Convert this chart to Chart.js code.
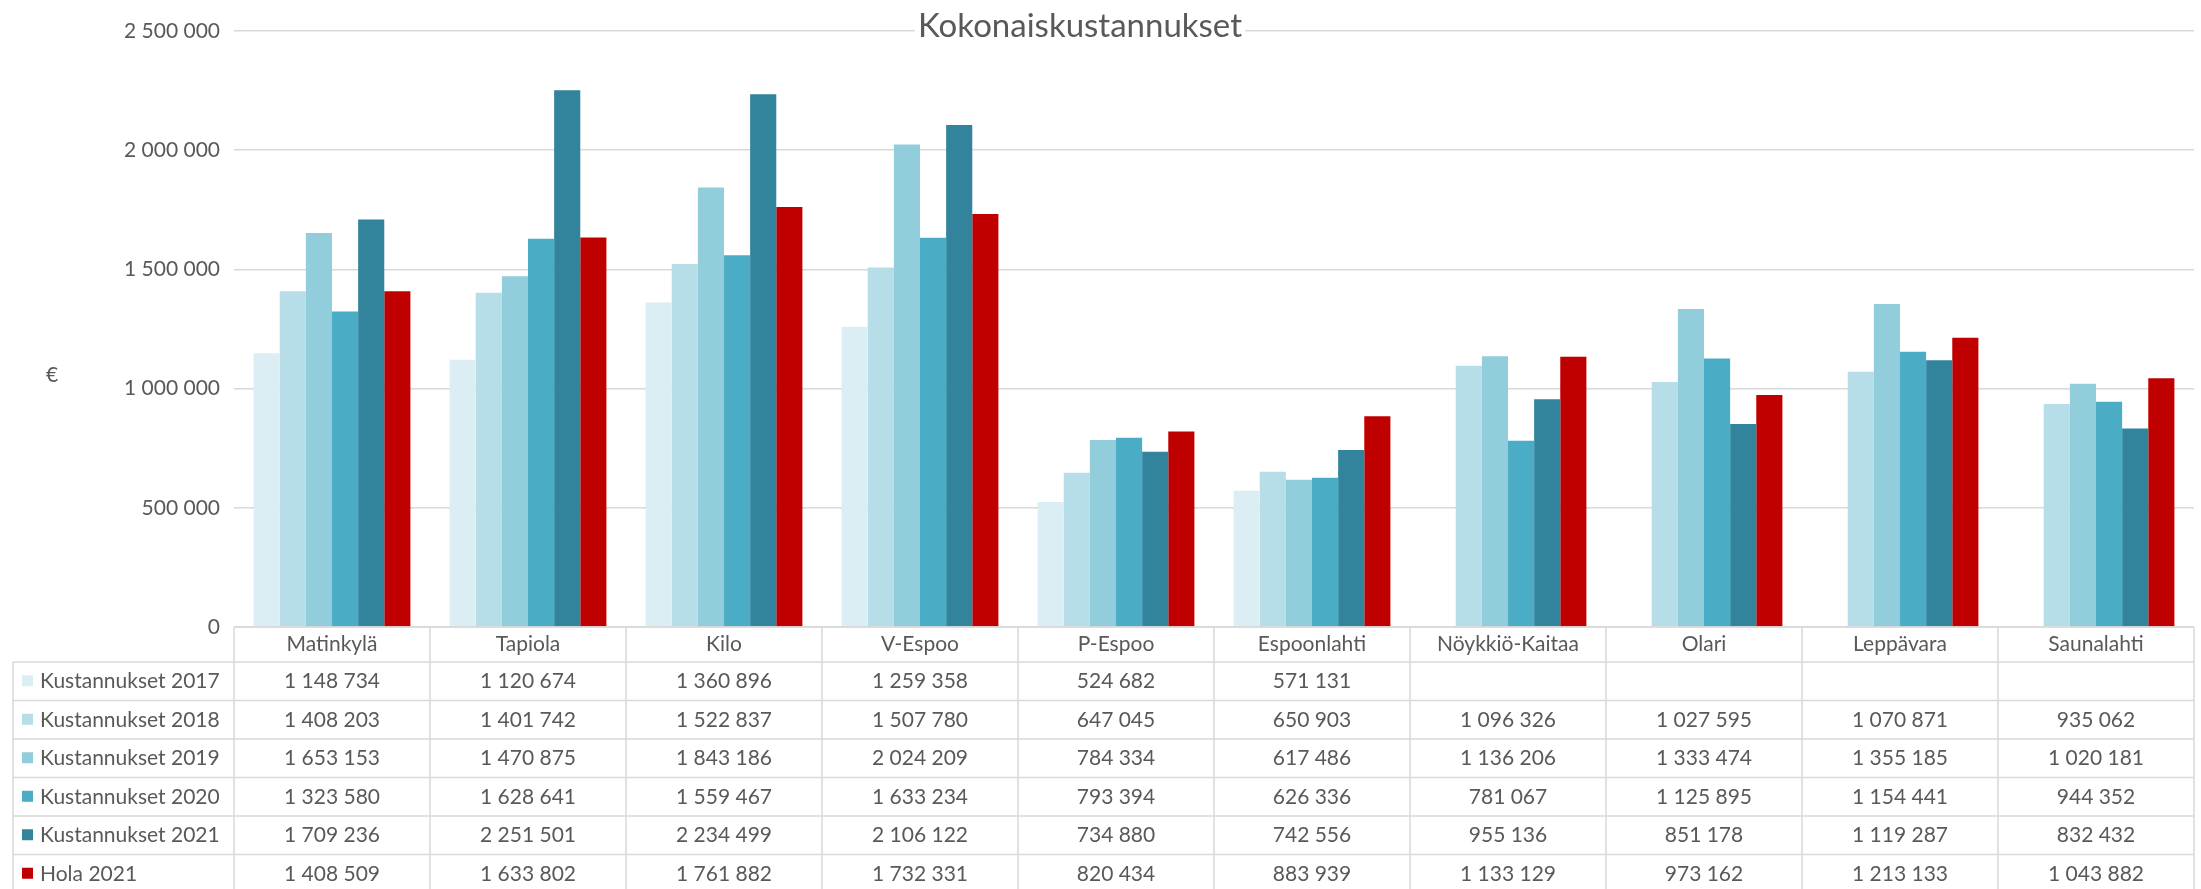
<!DOCTYPE html>
<html>
<head>
<meta charset="utf-8">
<script src="https://cdn.jsdelivr.net/npm/chart.js@4/dist/chart.umd.min.js"></script>
<style>
  body { margin: 0; background: #fff; }
  #wrap { width: 2201px; height: 889px; }
</style>
</head>
<body>
<div id="wrap"><canvas id="costChart" width="2201" height="889"></canvas></div>
<script>
const areas = ['Matinkylä', 'Tapiola', 'Kilo', 'V-Espoo', 'P-Espoo', 'Espoonlahti', 'Nöykkiö-Kaitaa', 'Olari', 'Leppävara', 'Saunalahti'];
const seriesNames = ['Kustannukset 2017', 'Kustannukset 2018', 'Kustannukset 2019', 'Kustannukset 2020', 'Kustannukset 2021', 'Hola 2021'];
const kust2017 = [1148734, 1120674, 1360896, 1259358, 524682, 571131, null, null, null, null];
const kust2018 = [1408203, 1401742, 1522837, 1507780, 647045, 650903, 1096326, 1027595, 1070871, 935062];
const kust2019 = [1653153, 1470875, 1843186, 2024209, 784334, 617486, 1136206, 1333474, 1355185, 1020181];
const kust2020 = [1323580, 1628641, 1559467, 1633234, 793394, 626336, 781067, 1125895, 1154441, 944352];
const kust2021 = [1709236, 2251501, 2234499, 2106122, 734880, 742556, 955136, 851178, 1119287, 832432];
const hola2021 = [1408509, 1633802, 1761882, 1732331, 820434, 883939, 1133129, 973162, 1213133, 1043882];
const yMax = 2500000;
const yStep = 500000;

const colors = ['#dbeef4', '#b7dde8', '#92cddc', '#4bacc6', '#31849b', '#c00000'];
const allSeries = [kust2017, kust2018, kust2019, kust2020, kust2021, hola2021];

const textGray = '#595959';
const lineGray = '#d9d9d9';
const fontFamily = 'Lato, "Open Sans", sans-serif';

function fmt(n) {
    if (n === null || n === undefined) return '';
    return String(n).replace(/\B(?=(\d{3})+(?!\d))/g, ' ');
}

// title, euro sign and the data table under the plot
const tablePlugin = {
    id: 'dataTable',
    afterDraw(chart) {
        const ctx = chart.ctx;
        const area = chart.chartArea;
        const x = chart.scales.x;
        const colW = (area.right - area.left) / areas.length;
        const headerH = 35;
        const rowH = 38.5;
        const tableLeft = 13;
        const top = area.bottom;
        const rowsTop = top + headerH;
        const bottom = rowsTop + rowH * seriesNames.length;

        ctx.save();
        // title with a white box over the top grid line
        ctx.font = '33px ' + fontFamily;
        const title = 'Kokonaiskustannukset';
        const tw = ctx.measureText(title).width;
        const tx = 1080;
        ctx.fillStyle = '#fff';
        ctx.fillRect(tx - tw / 2 - 3, 8, tw + 6, 32);
        ctx.fillStyle = textGray;
        ctx.textAlign = 'center';
        ctx.textBaseline = 'alphabetic';
        ctx.fillText(title, tx, 37);

        ctx.textBaseline = 'middle';
        // axis unit
        ctx.font = '21px ' + fontFamily;
        ctx.fillText('€', 52, 375);

        // table lines
        ctx.strokeStyle = lineGray;
        ctx.lineWidth = 1.5;
        ctx.beginPath();
        ctx.moveTo(area.left, top);
        ctx.lineTo(area.right, top);
        for (let r = 0; r <= seriesNames.length; r++) {
            const yy = rowsTop + r * rowH;
            ctx.moveTo(tableLeft, yy);
            ctx.lineTo(area.right, yy);
        }
        ctx.moveTo(tableLeft, rowsTop);
        ctx.lineTo(tableLeft, bottom);
        for (let c = 0; c <= areas.length; c++) {
            const xx = area.left + c * colW;
            ctx.moveTo(xx, top);
            ctx.lineTo(xx, bottom);
        }
        ctx.stroke();

        // header
        ctx.fillStyle = textGray;
        ctx.textAlign = 'center';
        areas.forEach((a, i) => {
            ctx.fillText(a, x.getPixelForValue(i), top + headerH / 2);
        });

        // rows
        seriesNames.forEach((name, r) => {
            const cy = rowsTop + r * rowH + rowH / 2;
            ctx.fillStyle = colors[r];
            ctx.fillRect(22, cy - 6, 11, 11);
            ctx.fillStyle = textGray;
            ctx.textAlign = 'left';
            ctx.fillText(name, 40, cy);
            ctx.textAlign = 'center';
            allSeries[r].forEach((v, i) => {
                ctx.fillText(fmt(v), x.getPixelForValue(i), cy);
            });
        });
        ctx.restore();
    }
};

const ctx = document.getElementById('costChart').getContext('2d');
const costChart = new Chart(ctx, {
    type: 'bar',
    data: {
        labels: areas,
        datasets: seriesNames.map((name, i) => ({
            label: name,
            data: allSeries[i],
            backgroundColor: colors[i],
            borderWidth: 0,
            barPercentage: 1.0,
            categoryPercentage: 0.8
        }))
    },
    options: {
        responsive: false,
        animation: false,
        layout: {
            padding: { top: 31, right: 7, bottom: 262, left: 0 }
        },
        plugins: {
            legend: { display: false },
            title: { display: false },
            tooltip: { enabled: false }
        },
        scales: {
            x: {
                display: false
            },
            y: {
                min: 0,
                max: yMax,
                afterFit(scale) { scale.width = 234; },
                border: { display: false },
                grid: { color: lineGray, lineWidth: 1.5, drawTicks: false },
                ticks: {
                    stepSize: yStep,
                    padding: 14,
                    color: textGray,
                    font: { family: fontFamily, size: 21 },
                    callback: v => fmt(v)
                }
            }
        }
    },
    plugins: [tablePlugin]
});
</script>
</body>
</html>
